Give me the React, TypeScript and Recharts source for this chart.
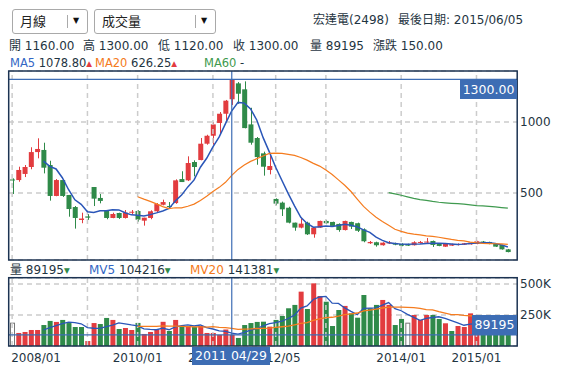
import React from 'react';
import {
    ComposedChart,
    Bar,
    Line,
    XAxis,
    YAxis,
    CartesianGrid,
    ReferenceLine
} from 'recharts';

// monthly candles, HTC (2498); the feed skips a few months
const dates = [
    '2008/01', '2008/02', '2008/03', '2008/04', '2008/05', '2008/06', '2008/07', '2008/08', '2008/09', '2008/10', '2008/11', '2008/12',
    '2009/05', '2009/06', '2009/07', '2009/08', '2009/09', '2009/10', '2009/11', '2009/12',
    '2010/01', '2010/02', '2010/03', '2010/04', '2010/05', '2010/06', '2010/07', '2010/08', '2010/09', '2010/10', '2010/11', '2010/12',
    '2011/01', '2011/02', '2011/03', '2011/04', '2011/05', '2011/06', '2011/07', '2011/08', '2011/09', '2011/10',
    '2012/05', '2012/06', '2012/07', '2012/08', '2012/09', '2012/10', '2012/11', '2012/12',
    '2013/01', '2013/02', '2013/03', '2013/04', '2013/05', '2013/06', '2013/07', '2013/08', '2013/09', '2013/10', '2013/11', '2013/12',
    '2014/01', '2014/02', '2014/03', '2014/04', '2014/05', '2014/06', '2014/07', '2014/08', '2014/09', '2014/10', '2014/11', '2014/12',
    '2015/01', '2015/02', '2015/03', '2015/04', '2015/05', '2015/06',
];

const opens = [
    595, 591, 634, 683, 788, 803, 697, 479, 591, 486, 401, 310,
    335, 542, 465, 375, 324, 359, 324, 361,
    373, 305, 324, 371, 417, 408, 429, 598, 589, 718, 732, 847,
    903, 993, 1058, 1160, 1272, 1230, 983, 887, 779, 662,
    458, 432, 396, 291, 256, 291, 209, 256,
    303, 296, 282, 239, 296, 287, 244, 146, 153, 132, 148, 146,
    141, 139, 132, 148, 152, 162, 141, 122, 129, 134, 136, 139,
    141, 158, 155, 141, 134, 103,
];
const highs = [
    603, 685, 697, 822, 885, 854, 727, 598, 591, 486, 408, 361,
    352, 542, 493, 380, 361, 361, 380, 380,
    380, 326, 378, 429, 453, 436, 596, 653, 758, 730, 887, 910,
    1000, 1070, 1155, 1300, 1281, 1286, 1100, 894, 791, 767,
    462, 439, 403, 291, 322, 298, 256, 305,
    310, 298, 286, 305, 298, 291, 251, 162, 157, 153, 162, 150,
    146, 143, 160, 162, 183, 165, 143, 148, 143, 145, 148, 153,
    163, 162, 157, 143, 136, 106,
];
const lows = [
    493, 579, 612, 667, 744, 638, 446, 477, 472, 333, 249, 287,
    310, 408, 427, 315, 322, 317, 320, 350,
    298, 270, 315, 366, 413, 389, 424, 577, 584, 617, 730, 840,
    840, 915, 1000, 1120, 1128, 955, 840, 699, 622, 631,
    413, 338, 286, 234, 251, 204, 185, 254,
    280, 260, 227, 236, 246, 225, 153, 141, 122, 129, 141, 132,
    125, 127, 130, 146, 148, 120, 125, 120, 127, 130, 134, 136,
    139, 144, 139, 120, 101, 82,
];
const closes = [
    590, 662, 683, 788, 810, 678, 479, 591, 479, 387, 324, 320,
    326, 460, 444, 324, 352, 324, 361, 368,
    312, 326, 371, 422, 436, 401, 589, 577, 711, 683, 847, 903,
    983, 1058, 1150, 1300, 1199, 957, 854, 753, 685, 690,
    425, 385, 291, 256, 284, 209, 256, 303,
    287, 268, 239, 303, 263, 234, 160, 155, 132, 150, 152, 136,
    129, 129, 153, 155, 158, 134, 127, 146, 139, 141, 146, 150,
    160, 147, 141, 122, 103, 84,
];
const volumes = [
    188000, 105000, 113000, 129000, 129000, 169000, 202000, 194000, 210000, 185000, 153000, 153000,
    40000, 185000, 177000, 226000, 210000, 137000, 145000, 129000,
    186000, 97000, 113000, 130000, 195000, 121000, 210000, 161000, 161000, 153000, 161000, 105000,
    105000, 89000, 133000, 89195, 65000, 169000, 185000, 194000, 196000, 156000,
    210000, 242000, 304000, 331000, 438000, 298000, 505000, 403000,
    357000, 161000, 290000, 323000, 263000, 228000, 411000, 304000, 331000, 371000, 331000, 169000,
    218000, 188000, 250000, 210000, 250000, 250000, 218000, 183000, 121000, 161000, 153000, 263000,
    205000, 230000, 190000, 215000, 240000, 135000,
];

const priceTicks = [500, 1000];
const volumeTicks = [250000, 500000];
const gridDates = ['2008/01', '2009/05', '2010/01', '2011/01', '2012/05', '2013/01', '2014/01', '2015/01'];
const labelDates = ['2008/01', '2010/01', '2011/01', '2012/05', '2014/01', '2015/01'];
const pickedDate = '2011/04';

const RED = '#e23c3f';
const GREEN = '#2f8a49';
const NAVY = '#1c3352';
const PICK = '#3d6db4';
const GRID = '#cccccc';
const TEXT = '#1f3542';
const FONT = '"DejaVu Sans", "Noto Sans CJK TC", sans-serif';

const movingAvg = (vals: number[], n: number) =>
    vals.map((_, i) => {
        if (i < n) return null;
        let s = 0;
        for (let k = i - n + 1; k <= i; k++) s += vals[k];
        return s / n;
    });

const ma5 = movingAvg(closes, 5);
const ma20 = movingAvg(closes, 20);
const ma60 = movingAvg(closes, 60);
const mv5 = movingAvg(volumes, 5);
const mv20 = movingAvg(volumes, 20);

const rows = dates.map((d, i) => ({
    date: d,
    range: [lows[i], highs[i]],
    open: opens[i],
    close: closes[i],
    high: highs[i],
    low: lows[i],
    vol: volumes[i],
    dir: i === 0 ? 0 : Math.sign(closes[i] - closes[i - 1]),
    ma5: ma5[i],
    ma20: ma20[i],
    ma60: ma60[i],
    mv5: mv5[i],
    mv20: mv20[i],
}));

const Candle = (props: any) => {
    const { x, y, width, height, payload } = props;
    const { open, close, high, low } = payload;
    const py = (v: number) => y + ((high - v) / (high - low)) * height;
    const color = close > open ? RED : GREEN;
    const cx = Math.round(x + width / 2) + 0.5;
    const top = py(Math.max(open, close));
    const bot = py(Math.min(open, close));
    return (
        <g>
            <line x1={cx} x2={cx} y1={y} y2={y + height} stroke={color} strokeWidth={1} />
            <rect x={x} y={top} width={width} height={Math.max(1, bot - top)} fill={color} />
        </g>
    );
};

const VolBar = (props: any) => {
    const { x, y, width, height, payload } = props;
    if (payload.dir === 0) {
        return <rect x={x + 0.5} y={y + 0.5} width={width - 1} height={height - 1} fill="#fff" stroke="#777" strokeWidth={1} />;
    }
    return <rect x={x} y={y} width={width} height={height} fill={payload.dir > 0 ? RED : GREEN} />;
};

const DateTick = (props: any) => {
    const { x, y, payload } = props;
    if (!labelDates.includes(payload.value)) return <g />;
    const first = payload.value === labelDates[0];
    return (
        <text x={first ? x - 1 : x} y={y + 15.5} textAnchor={first ? 'start' : 'middle'} fontSize={12} fill={TEXT} fontFamily={FONT}>
            {payload.value}
        </text>
    );
};

const abs = (left: number, top: number, extra: React.CSSProperties = {}): React.CSSProperties => ({
    position: 'absolute', left, top, whiteSpace: 'pre', lineHeight: '14px', ...extra,
});

const tri = (up: boolean) => (
    <span style={{ color: up ? RED : GREEN, fontSize: 7.5, verticalAlign: 1 }}>{up ? '▲' : '▼'}</span>
);

const Dropdown = ({ left, width, label, divider }: { left: number; width: number; label: string; divider: number }) => (
    <div style={{ position: 'absolute', left, top: 9, width, height: 23, border: '1px solid #a9a9a9', borderRadius: 3, background: '#fff' }}>
        <span style={{ position: 'absolute', left: 7, top: 4, fontSize: 13, lineHeight: '15px', color: '#222' }}>{label}</span>
        <div style={{ position: 'absolute', left: divider, top: 5, width: 1, height: 13, background: '#aaa' }} />
        <span style={{ position: 'absolute', left: divider + 6, top: 6, fontSize: 8, color: '#111' }}>▼</span>
    </div>
);

export default function App() {
    const gridLines = (keyPrefix: string) =>
        gridDates.map(d => (
            <ReferenceLine key={keyPrefix + d} x={d} stroke={GRID} strokeDasharray="5 4" strokeWidth={1.5} />
        ));

    return (
        <div style={{ position: 'absolute', left: 0, top: 0, width: 563, height: 365, background: '#fff', fontFamily: FONT, fontSize: 12, color: TEXT }}>
            <Dropdown left={12} width={74} label="月線" divider={54} />
            <Dropdown left={94} width={120} label="成交量" divider={100} />
            <span style={abs(313, 13)}>宏達電(2498)</span>
            <span style={abs(398, 13)}>最後日期: 2015/06/05</span>

            <span style={abs(9, 39)}>開 1160.00</span>
            <span style={abs(83, 39)}>高 1300.00</span>
            <span style={abs(158, 39)}>低 1120.00</span>
            <span style={abs(233, 39)}>收 1300.00</span>
            <span style={abs(310, 39)}>量 89195</span>
            <span style={abs(373, 39)}>漲跌 150.00</span>

            <span style={abs(10, 56, { fontSize: 11.5 })}><span style={{ color: '#3366c4' }}>MA5</span> 1078.80{tri(true)}</span>
            <span style={abs(95, 56, { fontSize: 11.5 })}><span style={{ color: '#f47a20' }}>MA20</span> 626.25{tri(true)}</span>
            <span style={abs(204, 56, { fontSize: 11.5 })}><span style={{ color: '#3e9a4e' }}>MA60</span> -</span>

            <span style={abs(10, 263)}>量 89195{tri(false)}</span>
            <span style={abs(89, 263)}><span style={{ color: '#3366c4' }}>MV5</span> 104216{tri(false)}</span>
            <span style={abs(190, 263)}><span style={{ color: '#f47a20' }}>MV20</span> 141381{tri(false)}</span>

            <div style={{ position: 'absolute', left: 0, top: 0 }}>
                <ComposedChart width={563} height={262} data={rows} margin={{ top: 71, right: 0, bottom: 2, left: 9 }}>
                    <CartesianGrid vertical={false} stroke={GRID} strokeDasharray="5 4" strokeWidth={1.5} />
                    <XAxis dataKey="date" hide padding={{ left: 0, right: 6 }} />
                    <YAxis
                        orientation="right"
                        width={46}
                        domain={[28, 1359]}
                        ticks={priceTicks}
                        allowDataOverflow
                        axisLine={false}
                        tickLine={false}
                        tickSize={0}
                        tickMargin={3}
                        tick={{ fontSize: 12, fill: TEXT, fontFamily: FONT }}
                    />
                    {gridLines('p')}
                    <Bar dataKey="range" barSize={5} shape={(p: any) => <Candle {...p} />} isAnimationActive={false} />
                    <Line dataKey="ma5" stroke="#2a56b8" strokeWidth={1.5} dot={false} activeDot={false} isAnimationActive={false} />
                    <Line dataKey="ma20" stroke="#f57c1f" strokeWidth={1.2} dot={false} activeDot={false} isAnimationActive={false} />
                    <Line dataKey="ma60" stroke="#3f9a4f" strokeWidth={1.2} dot={false} activeDot={false} isAnimationActive={false} />
                    <ReferenceLine x={pickedDate} stroke={PICK} strokeWidth={1.2} />
                    <ReferenceLine y={1300} stroke={PICK} strokeWidth={1.2} />
                </ComposedChart>
            </div>

            <div style={{ position: 'absolute', left: 0, top: 262 }}>
                <ComposedChart width={563} height={103} data={rows} margin={{ top: 16, right: 0, bottom: 0, left: 9 }}>
                    <CartesianGrid vertical={false} stroke={GRID} strokeDasharray="5 4" strokeWidth={1.5} />
                    <XAxis
                        dataKey="date"
                        interval={0}
                        height={19}
                        padding={{ left: 0, right: 6 }}
                        axisLine={false}
                        tickLine={false}
                        tickSize={0}
                        tickMargin={0}
                        tick={(p: any) => <DateTick {...p} />}
                    />
                    <YAxis
                        orientation="right"
                        width={46}
                        domain={[0, 548000]}
                        ticks={volumeTicks}
                        allowDataOverflow
                        axisLine={false}
                        tickLine={false}
                        tickSize={0}
                        tickMargin={3}
                        tickFormatter={(v: number) => v / 1000 + 'K'}
                        tick={{ fontSize: 12, fill: TEXT, fontFamily: FONT }}
                    />
                    {gridLines('v')}
                    <Bar dataKey="vol" barSize={5} shape={(p: any) => <VolBar {...p} />} isAnimationActive={false} />
                    <Line dataKey="mv5" stroke="#2a56b8" strokeWidth={1.3} dot={false} activeDot={false} isAnimationActive={false} />
                    <Line dataKey="mv20" stroke="#f57c1f" strokeWidth={1.3} dot={false} activeDot={false} isAnimationActive={false} />
                    <ReferenceLine x={pickedDate} stroke={PICK} strokeWidth={1.2} />
                    <ReferenceLine y={89195} stroke={PICK} strokeWidth={1.2} />
                </ComposedChart>
            </div>

            <svg width={563} height={365} style={{ position: 'absolute', left: 0, top: 0, pointerEvents: 'none' }}>
                <rect x={8.7} y={71} width={508.5} height={189} fill="none" stroke={NAVY} strokeWidth={1.5} />
                <rect x={8.7} y={277.7} width={508.5} height={68.3} fill="none" stroke={NAVY} strokeWidth={1.5} />
            </svg>

            <div style={{ position: 'absolute', left: 460, top: 80, width: 57, height: 19, background: PICK, color: '#fff', fontSize: 12.5, lineHeight: '19px', textAlign: 'center' }}>1300.00</div>
            <div style={{ position: 'absolute', left: 472, top: 315, width: 45, height: 20, background: PICK, color: '#fff', fontSize: 12.5, lineHeight: '20px', textAlign: 'center' }}>89195</div>
            <div style={{ position: 'absolute', left: 192, top: 347, width: 78, height: 18, background: PICK, color: '#fff', fontSize: 12.5, lineHeight: '18px', textAlign: 'center' }}>2011 04/29</div>
        </div>
    );
}
